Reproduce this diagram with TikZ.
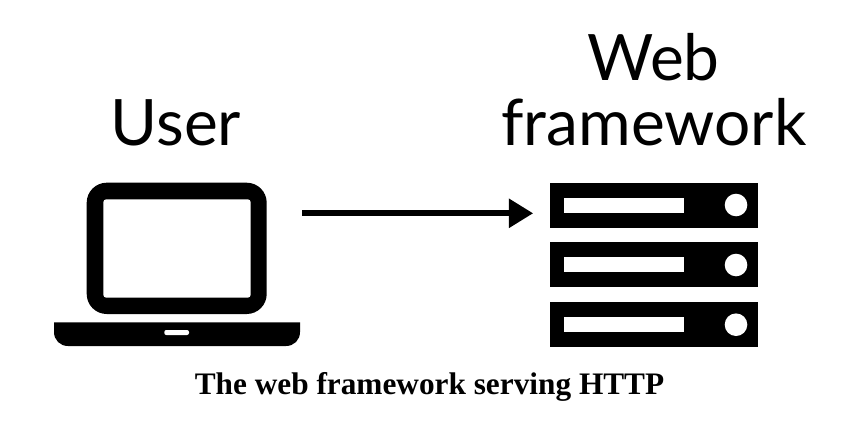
\documentclass[tikz,border=0pt]{standalone}
\usepackage{fontspec}
\setmainfont{Lato}
\newfontfamily\capfont{Liberation Serif}[BoldFont={Liberation Serif Bold}]
\usetikzlibrary{arrows.meta}
\tikzset{
  heading/.style={inner sep=0pt,font=\fontsize{64}{65}\selectfont,align=center,anchor=base,text=black},
  caption/.style={inner sep=0pt,font=\capfont\bfseries\fontsize{31.3}{32}\selectfont,anchor=base,text=black},
  solid box/.style={fill=black,draw=none},
  cut/.style={fill=white,draw=none},
  rack/.style={solid box,minimum width=208.3pt,minimum height=44.6pt,inner sep=0pt,outer sep=0pt},
  flow/.style={line width=6pt,draw=black,-{Triangle[length=24.4pt,width=28pt]},shorten >=16.8pt,shorten <=35.3pt}
}
\begin{document}
\begin{tikzpicture}[x=1pt,y=-1pt]
\useasboundingbox (0,0) rectangle (858,428);
\fill[white] (0,0) rectangle (858,428);
\node[heading] (user) at (176,145) {User};
\node[heading] (web) at (653.5,80) {Web};
\node[heading] (fw) at (654,145) {framework};
% laptop
\node[solid box,rounded corners=20pt,minimum width=180pt,minimum height=131.3pt,inner sep=0pt,outer sep=0pt] (screen) at (176.7,248.35) {};
\fill[cut,rounded corners=3pt] (103.3,199.3) rectangle (250.7,297.7);
\path[solid box] (54,322.3) -- (300,322.3) -- (300,332) .. controls (300,340) and (294,346) .. (286,346) -- (68,346) .. controls (60,346) and (54,340) .. (54,332) -- cycle;
\fill[cut,rounded corners=2pt] (164.3,330) rectangle (189,335);
% servers
\node[rack] (s1) at (654.15,205.2) {};
\node[rack] (s2) at (654.15,264.7) {};
\node[rack] (s3) at (654.15,324.4) {};
\fill[cut] (564.3,197.7) rectangle (683.7,212.7);
\fill[cut] (564.3,257.3) rectangle (683.7,272.3);
\fill[cut] (564.3,317) rectangle (683.7,332);
\fill[cut] (736,205) circle (11.3);
\fill[cut] (736,265) circle (11.3);
\fill[cut] (736,324.7) circle (11.3);
\draw[flow] (screen.east |- 0,213.3) coordinate (from) (from) -- (s1.west |- from);
\node[caption] (cap) at (429.5,394) {The web framework serving HTTP};
\end{tikzpicture}
\end{document}
